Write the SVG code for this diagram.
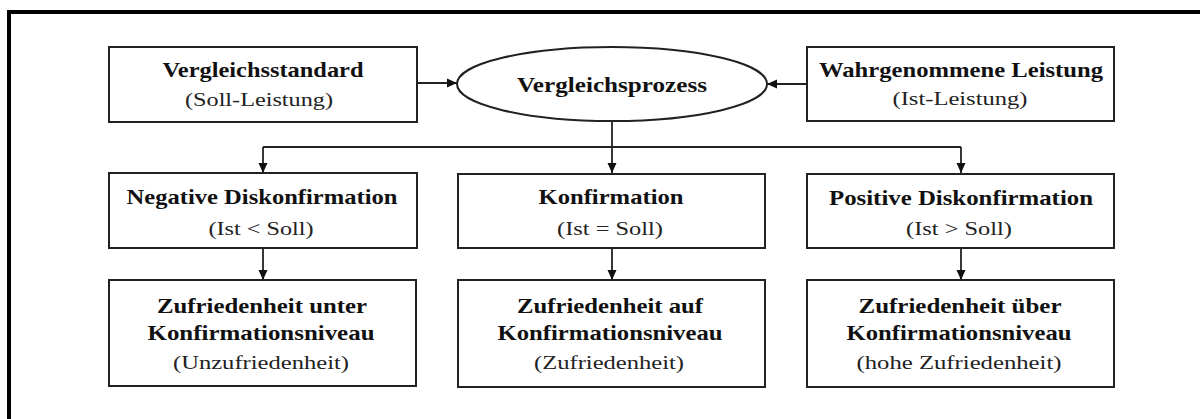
<svg xmlns="http://www.w3.org/2000/svg" width="1200" height="419" viewBox="0 0 1200 419">
<style>
.box{fill:#fff;stroke:#222;stroke-width:2}
.b{font-family:"Liberation Serif","Times New Roman",serif;font-weight:bold;font-size:21px;fill:#111;text-anchor:middle}
.r{font-family:"Liberation Serif","Times New Roman",serif;font-size:19px;fill:#222;text-anchor:middle}
.ln{fill:none;stroke:#222;stroke-width:1.8}
</style>
<defs>
<marker id="ah" viewBox="0 0 10 10" refX="10" refY="5" markerWidth="10" markerHeight="10" markerUnits="userSpaceOnUse" orient="auto">
<path d="M0,0.5 L10,5 L0,9.5 Z" fill="#111"/>
</marker>
</defs>
<rect width="1200" height="419" fill="#fff"/>
<path d="M9,419 V12 H1200" fill="none" stroke="#000" stroke-width="4"/>
<g id="connectors">
<line class="ln" x1="417" y1="83" x2="457" y2="83" marker-end="url(#ah)"/>
<line class="ln" x1="807" y1="84" x2="767" y2="84" marker-end="url(#ah)"/>
<path class="ln" d="M612,121 V147"/>
<path class="ln" d="M263,147 H961"/>
<line class="ln" x1="263" y1="147" x2="263" y2="173" marker-end="url(#ah)"/>
<line class="ln" x1="612" y1="147" x2="612" y2="173" marker-end="url(#ah)"/>
<line class="ln" x1="961" y1="147" x2="961" y2="173" marker-end="url(#ah)"/>
<line class="ln" x1="263" y1="248" x2="263" y2="280" marker-end="url(#ah)"/>
<line class="ln" x1="612" y1="248" x2="612" y2="280" marker-end="url(#ah)"/>
<line class="ln" x1="961" y1="248" x2="961" y2="280" marker-end="url(#ah)"/>
</g>
<g id="vergleichsstandard">
<rect class="box" x="109" y="47" width="308" height="75"/>
<text class="b" x="263" y="77" textLength="201" lengthAdjust="spacingAndGlyphs">Vergleichsstandard</text>
<text class="r" x="259" y="106" textLength="148" lengthAdjust="spacingAndGlyphs">(Soll-Leistung)</text>
</g>
<g id="vergleichsprozess">
<ellipse class="box" cx="612" cy="84" rx="155" ry="37"/>
<text class="b" x="612" y="92" textLength="190" lengthAdjust="spacingAndGlyphs">Vergleichsprozess</text>
</g>
<g id="wahrgenommene">
<rect class="box" x="807" y="47" width="307" height="74"/>
<text class="b" x="961" y="77" textLength="284" lengthAdjust="spacingAndGlyphs">Wahrgenommene Leistung</text>
<text class="r" x="960" y="105" textLength="135" lengthAdjust="spacingAndGlyphs">(Ist-Leistung)</text>
</g>
<g id="negativ">
<rect class="box" x="109" y="173" width="308" height="75"/>
<text class="b" x="262" y="204" textLength="271" lengthAdjust="spacingAndGlyphs">Negative Diskonfirmation</text>
<text class="r" x="261" y="235" textLength="105" lengthAdjust="spacingAndGlyphs">(Ist &lt; Soll)</text>
</g>
<g id="konfirmation">
<rect class="box" x="458" y="174" width="307" height="74"/>
<text class="b" x="611" y="204" textLength="145" lengthAdjust="spacingAndGlyphs">Konfirmation</text>
<text class="r" x="610" y="235" textLength="106" lengthAdjust="spacingAndGlyphs">(Ist = Soll)</text>
</g>
<g id="positiv">
<rect class="box" x="807" y="174" width="307" height="74"/>
<text class="b" x="961" y="205" textLength="264" lengthAdjust="spacingAndGlyphs">Positive Diskonfirmation</text>
<text class="r" x="959" y="235" textLength="106" lengthAdjust="spacingAndGlyphs">(Ist &gt; Soll)</text>
</g>
<g id="unzufrieden">
<rect class="box" x="109" y="280" width="307" height="106"/>
<text class="b" x="262" y="313" textLength="210" lengthAdjust="spacingAndGlyphs">Zufriedenheit unter</text>
<text class="b" x="261" y="340" textLength="227" lengthAdjust="spacingAndGlyphs">Konfirmationsniveau</text>
<text class="r" x="261" y="369" textLength="176" lengthAdjust="spacingAndGlyphs">(Unzufriedenheit)</text>
</g>
<g id="zufrieden">
<rect class="box" x="458" y="280" width="307" height="107"/>
<text class="b" x="610" y="313" textLength="186" lengthAdjust="spacingAndGlyphs">Zufriedenheit auf</text>
<text class="b" x="610" y="340" textLength="225" lengthAdjust="spacingAndGlyphs">Konfirmationsniveau</text>
<text class="r" x="609" y="369" textLength="150" lengthAdjust="spacingAndGlyphs">(Zufriedenheit)</text>
</g>
<g id="hochzufrieden">
<rect class="box" x="807" y="280" width="307" height="107"/>
<text class="b" x="960" y="313" textLength="203" lengthAdjust="spacingAndGlyphs">Zufriedenheit über</text>
<text class="b" x="959" y="340" textLength="225" lengthAdjust="spacingAndGlyphs">Konfirmationsniveau</text>
<text class="r" x="959" y="369" textLength="205" lengthAdjust="spacingAndGlyphs">(hohe Zufriedenheit)</text>
</g>
</svg>
